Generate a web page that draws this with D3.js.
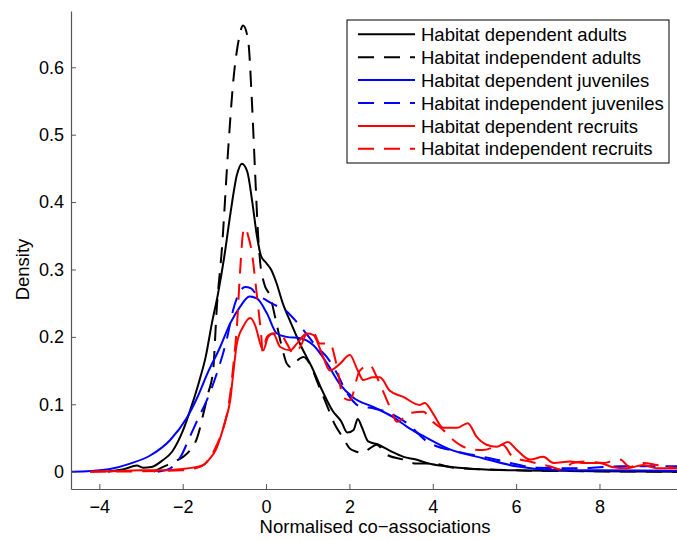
<!DOCTYPE html>
<html>
<head>
<meta charset="utf-8">
<script src="https://cdn.jsdelivr.net/npm/d3@7"></script>
<style>
  body { margin: 0; background: #fff; }
  svg text { font-family: "Liberation Sans", Arial, Helvetica, sans-serif; fill: #000; }
</style>
</head>
<body>
<svg id="chart" width="677" height="540"></svg>
<script>
// tick labels
var xTicks = [-4, -2, 0, 2, 4, 6, 8];
var yTicks = [0, 0.1, 0.2, 0.3, 0.4, 0.5, 0.6];

// legend labels
var seriesNames = [
  "Habitat dependent adults",
  "Habitat independent adults",
  "Habitat dependent juveniles",
  "Habitat independent juveniles",
  "Habitat dependent recruits",
  "Habitat independent recruits"
];

// density curves (x = normalised co-association, y = density)
var adultsDepX = [-3.8, -3.4, -3.1, -2.95, -2.75, -2.5, -2.25, -2.0, -1.8, -1.6, -1.45, -1.3, -1.15, -1.0, -0.85, -0.7, -0.58, -0.45, -0.33, -0.22, -0.12, 0.0, 0.12, 0.25, 0.4, 0.6, 0.85, 1.1, 1.35, 1.6, 1.8, 1.95, 2.1, 2.2, 2.3, 2.45, 2.7, 3.0, 3.3, 3.6, 3.9, 4.3, 5.0, 6.0, 7.5, 9.86];
var adultsDepY = [0, 0.004, 0.009, 0.006, 0.007, 0.016, 0.03, 0.06, 0.095, 0.135, 0.17, 0.22, 0.265, 0.32, 0.385, 0.44, 0.457, 0.445, 0.40, 0.35, 0.32, 0.31, 0.30, 0.28, 0.25, 0.22, 0.185, 0.155, 0.12, 0.09, 0.075, 0.058, 0.062, 0.078, 0.066, 0.045, 0.04, 0.03, 0.022, 0.018, 0.012, 0.008, 0.004, 0.002, 0.001, 0];

var adultsIndX = [-2.7, -2.47, -2.23, -1.99, -1.82, -1.65, -1.5, -1.39, -1.27, -1.18, -1.06, -0.91, -0.79, -0.67, -0.55, -0.43, -0.34, -0.26, -0.19, -0.14, -0.05, 0.1, 0.25, 0.4, 0.5, 0.6, 0.75, 0.9, 1.05, 1.25, 1.45, 1.65, 1.85, 2.0, 2.15, 2.3, 2.5, 2.65, 2.9, 3.3, 3.6, 4.0, 4.5, 5.5, 7.0, 9.86];
var adultsIndY = [0, 0.007, 0.014, 0.022, 0.032, 0.051, 0.087, 0.116, 0.15, 0.245, 0.33, 0.477, 0.577, 0.636, 0.662, 0.64, 0.55, 0.44, 0.35, 0.31, 0.28, 0.26, 0.22, 0.18, 0.16, 0.155, 0.165, 0.17, 0.16, 0.13, 0.1, 0.07, 0.05, 0.035, 0.03, 0.028, 0.035, 0.04, 0.025, 0.018, 0.012, 0.012, 0.006, 0.003, 0.001, 0];

var juvDepX = [-4.68, -4.2, -3.74, -3.26, -2.78, -2.3, -1.9, -1.65, -1.39, -1.1, -0.86, -0.62, -0.4, -0.22, 0.02, 0.26, 0.5, 0.82, 1.13, 1.46, 1.77, 2.09, 2.57, 3.05, 3.45, 3.8, 4.41, 5.2, 6.0, 6.8, 8.0, 9.86];
var juvDepY = [0, 0.001, 0.004, 0.012, 0.024, 0.047, 0.08, 0.11, 0.148, 0.185, 0.22, 0.245, 0.26, 0.257, 0.235, 0.205, 0.2, 0.198, 0.188, 0.161, 0.13, 0.11, 0.096, 0.081, 0.064, 0.052, 0.033, 0.02, 0.008, 0.003, 0.002, 0.0015];

var juvIndX = [-2.6, -2.3, -2.05, -1.82, -1.62, -1.42, -1.18, -0.94, -0.79, -0.67, -0.5, -0.36, -0.22, -0.07, 0.22, 0.41, 0.65, 0.86, 1.22, 1.46, 1.7, 1.94, 2.25, 2.57, 2.97, 3.38, 3.86, 4.65, 5.37, 5.78, 6.5, 7.5, 8.5, 9.86];
var juvIndY = [0, 0.005, 0.022, 0.053, 0.08, 0.106, 0.146, 0.197, 0.24, 0.262, 0.274, 0.272, 0.262, 0.257, 0.247, 0.242, 0.228, 0.213, 0.185, 0.17, 0.146, 0.117, 0.097, 0.094, 0.087, 0.072, 0.045, 0.029, 0.02, 0.014, 0.006, 0.005, 0.008, 0.008];

var recDepX = [-4.22, -3.5, -3.0, -2.5, -2.0, -1.75, -1.5, -1.34, -1.2, -1.1, -0.98, -0.86, -0.78, -0.7, -0.55, -0.38, -0.25, -0.14, -0.07, 0.05, 0.17, 0.34, 0.58, 0.74, 0.98, 1.13, 1.37, 1.53, 1.77, 2.01, 2.2, 2.33, 2.57, 2.73, 2.97, 3.29, 3.69, 3.81, 4.0, 4.25, 4.58, 4.84, 5.05, 5.29, 5.53, 5.8, 6.02, 6.33, 6.65, 6.9, 7.3, 7.6, 8.0, 8.3, 8.66, 9.05, 9.38, 9.86];
var recDepY = [0, 0.001, 0.002, 0.002, 0.004, 0.006, 0.01, 0.02, 0.033, 0.05, 0.075, 0.106, 0.15, 0.19, 0.215, 0.228, 0.215, 0.19, 0.18, 0.2, 0.205, 0.185, 0.18, 0.19, 0.205, 0.203, 0.17, 0.15, 0.16, 0.173, 0.15, 0.136, 0.14, 0.14, 0.12, 0.111, 0.099, 0.102, 0.087, 0.065, 0.065, 0.072, 0.052, 0.04, 0.037, 0.044, 0.032, 0.018, 0.022, 0.013, 0.015, 0.013, 0.013, 0.007, 0.005, 0.01, 0.005, 0.005];

var recIndX = [-4.22, -3.0, -2.0, -1.7, -1.5, -1.3, -1.18, -1.05, -0.94, -0.85, -0.79, -0.7, -0.62, -0.55, -0.5, -0.43, -0.34, -0.26, -0.19, -0.12, -0.08, 0.02, 0.17, 0.34, 0.5, 0.65, 0.82, 0.98, 1.13, 1.29, 1.53, 1.7, 1.85, 2.01, 2.25, 2.49, 2.66, 2.97, 3.14, 3.45, 3.77, 4.0, 4.25, 4.49, 4.82, 5.2, 5.68, 5.92, 6.33, 6.8, 7.12, 7.36, 7.7, 8.09, 8.49, 8.73, 9.05, 9.38, 9.86];
var recIndY = [0, 0.0005, 0.002, 0.005, 0.01, 0.025, 0.04, 0.06, 0.085, 0.12, 0.155, 0.215, 0.30, 0.355, 0.362, 0.35, 0.325, 0.284, 0.245, 0.205, 0.178, 0.2, 0.205, 0.205, 0.19, 0.176, 0.185, 0.205, 0.207, 0.19, 0.19, 0.156, 0.11, 0.106, 0.15, 0.158, 0.14, 0.096, 0.074, 0.087, 0.089, 0.074, 0.062, 0.047, 0.035, 0.032, 0.04, 0.022, 0.015, 0.008, 0.003, 0.013, 0.015, 0.013, 0.018, 0.007, 0.013, 0.01, 0.005];

var svg = d3.select("#chart");
var margin = {top: 11, right: 0, bottom: 51, left: 71};
var width = 677 - margin.left - margin.right;
var height = 540 - margin.top - margin.bottom;

var xScale = d3.scaleLinear().domain([-4.68, 9.86]).range([0, width]);
var yScale = d3.scaleLinear().domain([-0.0257, 0.6835]).range([height, 0]);

var g = svg.append("g")
  .attr("transform", "translate(" + margin.left + "," + margin.top + ")");

// clip curves to the axes box
svg.append("defs").append("clipPath").attr("id", "plotclip")
  .append("rect").attr("width", width).attr("height", height);

// series: data + style
var dashed = "16,10";
var series = [
  {xs: adultsDepX, ys: adultsDepY, color: "#000000", dash: null},
  {xs: adultsIndX, ys: adultsIndY, color: "#000000", dash: dashed},
  {xs: juvDepX, ys: juvDepY, color: "#0000ff", dash: null},
  {xs: juvIndX, ys: juvIndY, color: "#0000ff", dash: dashed},
  {xs: recDepX, ys: recDepY, color: "#ff0000", dash: null},
  {xs: recIndX, ys: recIndY, color: "#ff0000", dash: dashed}
];

var line = d3.line()
  .x(function(d) { return xScale(d[0]); })
  .y(function(d) { return yScale(d[1]); })
  .curve(d3.curveMonotoneX);

var plot = g.append("g").attr("clip-path", "url(#plotclip)");
series.forEach(function(s) {
  var pts = s.xs.map(function(x, i) { return [x, s.ys[i]]; });
  plot.append("path")
    .datum(pts)
    .attr("fill", "none")
    .attr("stroke", s.color)
    .attr("stroke-width", 2)
    .attr("stroke-linejoin", "round")
    .attr("stroke-dasharray", s.dash)
    .attr("d", line);
});

// axes (matlab style: ticks inside, no box)
var fmtMinus = function(d) { return d < 0 ? "\u2212" + Math.abs(d) : String(d); };

var xAxis = g.append("g")
  .attr("transform", "translate(0," + height + ")")
  .call(d3.axisBottom(xScale).tickValues(xTicks).tickSizeInner(-5).tickSizeOuter(0).tickPadding(11).tickFormat(fmtMinus));

var yAxis = g.append("g")
  .call(d3.axisLeft(yScale).tickValues(yTicks).tickSizeInner(-5).tickSizeOuter(0).tickPadding(7).tickFormat(function(d) { return d === 0 ? "0" : d3.format(".1f")(d); }));

[xAxis, yAxis].forEach(function(a) {
  a.select(".domain").attr("stroke", "#555").attr("stroke-width", 1.2);
  a.selectAll(".tick line").attr("stroke", "#555").attr("stroke-width", 1);
  a.selectAll(".tick text").attr("font-size", 18).attr("fill", "#000");
});

// axis titles
svg.append("text")
  .attr("x", 375)
  .attr("y", 533)
  .attr("text-anchor", "middle")
  .attr("font-size", 18.5)
  .text("Normalised co\u2212associations");

svg.append("text")
  .attr("transform", "translate(29," + (margin.top + yScale(0.3)) + ") rotate(-90)")
  .attr("text-anchor", "middle")
  .attr("font-size", 18.5)
  .text("Density");

// legend
var legend = svg.append("g").attr("transform", "translate(347,20)");
legend.append("rect")
  .attr("width", 322).attr("height", 143)
  .attr("fill", "#fff").attr("stroke", "#000").attr("stroke-width", 1);

series.forEach(function(s, i) {
  var yy = 14.3 + i * 22.9;
  legend.append("line")
    .attr("x1", 11).attr("x2", 68)
    .attr("y1", yy).attr("y2", yy)
    .attr("stroke", s.color)
    .attr("stroke-width", 2)
    .attr("stroke-dasharray", s.dash);
  legend.append("text")
    .attr("x", 74).attr("y", yy)
    .attr("dy", "0.36em")
    .attr("font-size", 18.5)
    .text(seriesNames[i]);
});
</script>
</body>
</html>
